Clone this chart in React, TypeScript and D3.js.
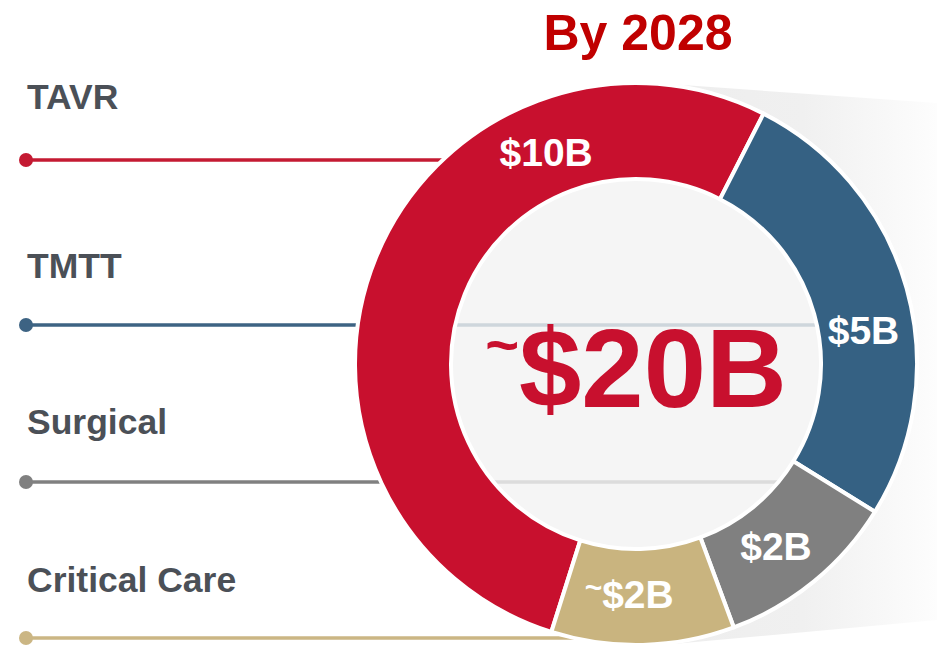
import React from "react";
import * as d3 from "d3";

const segments = ["TAVR", "TMTT", "Surgical", "Critical Care"];
const values = [10, 5, 2, 2];
const valueLabels = ["$10B", "$5B", "$2B", "~$2B"];
const segmentColors = ["#c8102e", "#356183", "#808080", "#c9b47f"];
const lineColors = ["#c41a32", "#3d6383", "#808080", "#cbb684"];
const title = "By 2028";
const totalLabel = "~$20B";

const W = 937;
const H = 645;
const FONT = "'Liberation Sans', Arial, Helvetica, sans-serif";

export default function App() {
  const cx = 636;
  const cy = 364;
  const rOuter = 281;
  const rInner = 185;

  // layout (positions only)
  const lineY = [160, 325, 482, 638];
  const labelY = [109, 278, 434, 592];
  const labelAngleDeg = [-23, 81.5, 142.5, 181.7];
  const labelR = 230;

  const startDeg = 27 - (values[0] / d3.sum(values)) * 360;
  const pie = d3
    .pie<number>()
    .sort(null)
    .value((d) => d)
    .startAngle((startDeg * Math.PI) / 180)
    .endAngle((startDeg * Math.PI) / 180 + 2 * Math.PI);
  const arcs = pie(values);
  const arcGen = d3.arc<d3.PieArcDatum<number>>().innerRadius(rInner).outerRadius(rOuter);

  const labelPos = arcs.map((a, i) => {
    const ang = (labelAngleDeg[i] * Math.PI) / 180;
    return [cx + labelR * Math.sin(ang), cy - labelR * Math.cos(ang)];
  });

  const lineEnd = lineY.map((y) => {
    const dy = y - cy;
    const h = rInner * rInner - dy * dy;
    return h > 0 ? cx + Math.sqrt(h) : cx;
  });

  return (
    <div style={{ position: "fixed", left: 0, top: 0, width: W, height: H, background: "#fff" }}>
      <svg width={W} height={H} style={{ display: "block", fontFamily: FONT }}>
        <defs>
          <linearGradient id="shade" x1="0" x2="1" y1="0" y2="0">
            <stop offset="0" stopColor="#ededed" />
            <stop offset="0.55" stopColor="#f0f0f0" />
            <stop offset="1" stopColor="#fdfdfd" />
          </linearGradient>
        </defs>
        <rect width={W} height={H} fill="#ffffff" />
        <polygon points={`${cx + 4},${cy - rOuter - 1} ${W},103 ${W},620 ${cx + 4},${cy + rOuter + 2}`} fill="url(#shade)" />

        <text x={638} y={50} textAnchor="middle" fontSize={50} fontWeight="bold" fill="#c00000">
          {title}
        </text>

        <circle cx={cx} cy={cy} r={rInner} fill="#ffffff" />

        {segments.map((s, i) => (
          <g key={s}>
            <text x={27} y={labelY[i]} fontSize={35.5} fontWeight="bold" fill="#4b5057">
              {s}
            </text>
            <line x1={26} x2={lineEnd[i]} y1={lineY[i]} y2={lineY[i]} stroke={lineColors[i]} strokeWidth={3.5} />
            <circle cx={26} cy={lineY[i]} r={7} fill={lineColors[i]} />
          </g>
        ))}

        <circle cx={cx} cy={cy} r={rInner} fill="#f2f2f2" fillOpacity={0.8} />

        <g transform={`translate(${cx},${cy})`}>
          {arcs.map((a, i) => (
            <path key={i} d={arcGen(a) || ""} fill={segmentColors[i]} stroke="#ffffff" strokeWidth={4} strokeLinejoin="round" />
          ))}
        </g>

        {arcs.map((a, i) => {
          const lbl = valueLabels[i];
          const tilde = lbl.startsWith("~");
          const [x, y] = labelPos[i];
          return (
            <text key={i} x={x} y={y + 14} textAnchor="middle" fontSize={39} fontWeight="bold" fill="#ffffff">
              {tilde ? (
                <>
                  <tspan fontSize={30} dy={-10}>~</tspan>
                  <tspan dy={10}>{lbl.slice(1)}</tspan>
                </>
              ) : (
                lbl
              )}
            </text>
          );
        })}

        <text x={cx} y={407} textAnchor="middle" fontSize={112} fontWeight="bold" fill="#c8102e">
          <tspan fontSize={58} dy={-42}>{totalLabel.slice(0, 1)}</tspan>
          <tspan dy={42}>{totalLabel.slice(1)}</tspan>
        </text>
      </svg>
    </div>
  );
}
